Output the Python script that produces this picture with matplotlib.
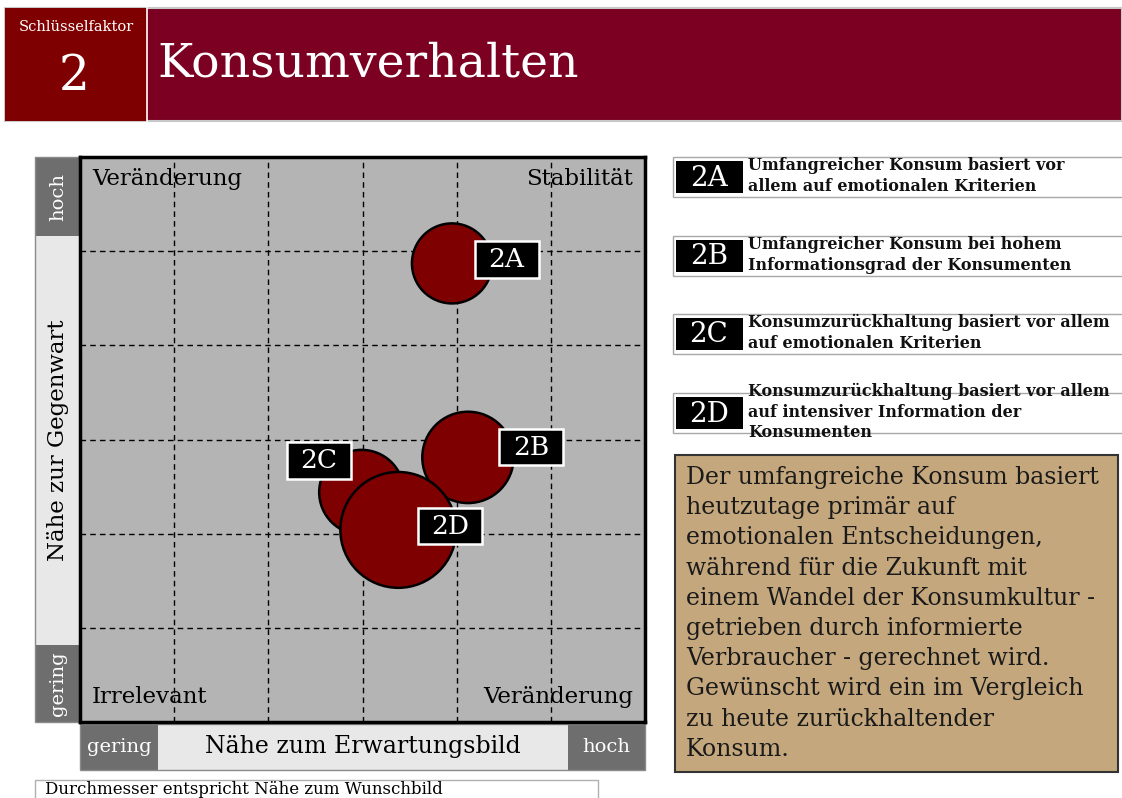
import matplotlib
matplotlib.use("Agg")
import matplotlib.pyplot as plt
from matplotlib.patches import Rectangle, Circle

# Daten
codes = ["2A", "2B", "2C", "2D"]
erwartung = [3.95, 4.12, 2.99, 3.38]      # x: Nähe zum Erwartungsbild (0-6)
gegenwart = [4.87, 2.81, 2.44, 2.04]      # y: Nähe zur Gegenwart (0-6)
wunschbild = [0.85, 0.97, 0.90, 1.23]     # Durchmesser: Nähe zum Wunschbild
beschreibung = [
    "Umfangreicher Konsum basiert vor\nallem auf emotionalen Kriterien",
    "Umfangreicher Konsum bei hohem\nInformationsgrad der Konsumenten",
    "Konsumzurückhaltung basiert vor allem\nauf emotionalen Kriterien",
    "Konsumzurückhaltung basiert vor allem\nauf intensiver Information der\nKonsumenten",
]
quadranten = ["Veränderung", "Stabilität", "Irrelevant", "Veränderung"]
fazit = ("Der umfangreiche Konsum basiert\nheutzutage primär auf\n"
         "emotionalen Entscheidungen,\nwährend für die Zukunft mit\n"
         "einem Wandel der Konsumkultur -\ngetrieben durch informierte\n"
         "Verbraucher - gerechnet wird.\nGewünscht wird ein im Vergleich\n"
         "zu heute zurückhaltender\nKonsum.")

# Label-Versatz gegenüber Blasenmitte (Gitter-Einheiten)
label_dx = [0.58, 0.67, -0.45, 0.55]
label_dy = [0.04, 0.11, 0.34, 0.04]

W, H = 1122, 798
serif = "DejaVu Serif"
dark_red = "#7f0000"
crimson = "#7b0022"
dark_gray = "#6e6e6e"
light_gray = "#e8e8e8"

fig = plt.figure(figsize=(W / 100, H / 100), dpi=100)

# Hintergrund-Achse in Pixelkoordinaten
bg = fig.add_axes([0, 0, 1, 1])
bg.set_xlim(0, W)
bg.set_ylim(H, 0)
bg.axis("off")

def rect(x0, y0, x1, y1, fc, ec="none", lw=1, z=1):
    bg.add_patch(Rectangle((x0, y0), x1 - x0, y1 - y0, facecolor=fc,
                           edgecolor=ec, linewidth=lw, zorder=z))

# Kopfzeile
rect(5, 8, 1122, 121, crimson, ec="#c8c8c8", lw=1.5)
rect(5, 8, 147, 121, dark_red)
bg.plot([147, 147], [8, 121], color="white", lw=1.2, zorder=2)
bg.text(76, 27, "Schlüsselfaktor", color="white", family=serif, fontsize=10.5,
        ha="center", va="center", zorder=3)
bg.text(74, 77, "2", color="white", family=serif, fontsize=35,
        ha="center", va="center", zorder=3)
bg.text(157, 64, "Konsumverhalten", color="white", family=serif, fontsize=34,
        ha="left", va="center", zorder=3)

# linke Achsenleiste
rect(35, 157, 80, 236, dark_gray)
rect(35, 236, 80, 645, light_gray)
rect(35, 645, 80, 722, dark_gray)
rect(35, 157, 80, 722, "none", ec="#8a8a8a", lw=1)
bg.text(58, 197, "hoch", color="white", family=serif, fontsize=14,
        rotation=90, ha="center", va="center")
bg.text(58, 440, "Nähe zur Gegenwart", color="black", family=serif, fontsize=16.5,
        rotation=90, ha="center", va="center")
bg.text(58, 684, "gering", color="white", family=serif, fontsize=14,
        rotation=90, ha="center", va="center")

# untere Achsenleiste
rect(80, 724, 158, 770, dark_gray)
rect(158, 724, 568, 770, light_gray)
rect(568, 724, 645, 770, dark_gray)
rect(80, 724, 645, 770, "none", ec="#8a8a8a", lw=1)
bg.text(119, 747, "gering", color="white", family=serif, fontsize=14,
        ha="center", va="center")
bg.text(363, 747, "Nähe zum Erwartungsbild", color="black", family=serif,
        fontsize=17, ha="center", va="center")
bg.text(606, 747, "hoch", color="white", family=serif, fontsize=14,
        ha="center", va="center")

# Fußnote
rect(35, 780, 598, 805, "white", ec="#b0b0b0", lw=1)
bg.text(45, 790, "Durchmesser entspricht Nähe zum Wunschbild", color="black",
        family=serif, fontsize=12, ha="left", va="center")

# Legende rechts
row_tops = [157, 236, 314, 393]
for code, txt, top in zip(codes, beschreibung, row_tops):
    rect(673, top, 1125, top + 40, "white", ec="#a8a8a8", lw=1)
    rect(676, top + 4, 743, top + 36, "black")
    bg.text(709, top + 21, code, color="white", family=serif, fontsize=20,
            ha="center", va="center", zorder=3)
    bg.text(748, top + 19, txt, color="#111111", family=serif, fontsize=11.5,
            fontweight="bold", ha="left", va="center", linespacing=1.25,
            zorder=3)

# Fazit-Box
rect(675, 455, 1118, 772, "#c4a77c", ec="#333333", lw=1.5)
bg.text(686, 466, fazit, color="#1a1a1a", family=serif, fontsize=17,
        ha="left", va="top", linespacing=1.4)

# Portfolio-Diagramm
ax = fig.add_axes([80 / W, (H - 722) / H, 565 / W, 565 / H])
ax.set_facecolor("#b4b4b4")
ax.set_xlim(0, 6)
ax.set_ylim(0, 6)
ax.set_xticks([])
ax.set_yticks([])
for s in ax.spines.values():
    s.set_linewidth(2.5)
    s.set_color("black")
for v in range(1, 6):
    ax.axvline(v, color="black", lw=1, ls=(0, (4, 3)), zorder=1)
    ax.axhline(v, color="black", lw=1, ls=(0, (4, 3)), zorder=1)

ax.text(0.13, 5.77, quadranten[0], family=serif, fontsize=16.5, va="center", ha="left")
ax.text(5.87, 5.77, quadranten[1], family=serif, fontsize=16.5, va="center", ha="right")
ax.text(0.13, 0.27, quadranten[2], family=serif, fontsize=16.5, va="center", ha="left")
ax.text(5.87, 0.27, quadranten[3], family=serif, fontsize=16.5, va="center", ha="right")

for i, (x, y, d) in enumerate(zip(erwartung, gegenwart, wunschbild)):
    ax.add_patch(Circle((x, y), d / 2, facecolor=dark_red, edgecolor="black",
                        linewidth=1.8, zorder=3 + i))

# Kennzeichen-Kästen (64 x 37 px)
bw, bh = 0.68, 0.39
for i, (code, x, y) in enumerate(zip(codes, erwartung, gegenwart)):
    cx, cy = x + label_dx[i], y + label_dy[i]
    ax.add_patch(Rectangle((cx - bw / 2, cy - bh / 2), bw, bh, facecolor="black",
                           edgecolor="white", linewidth=1.8, zorder=10))
    ax.text(cx, cy, code, color="white", family=serif, fontsize=19,
            ha="center", va="center", zorder=11)

fig.savefig("out.png", dpi=100)
